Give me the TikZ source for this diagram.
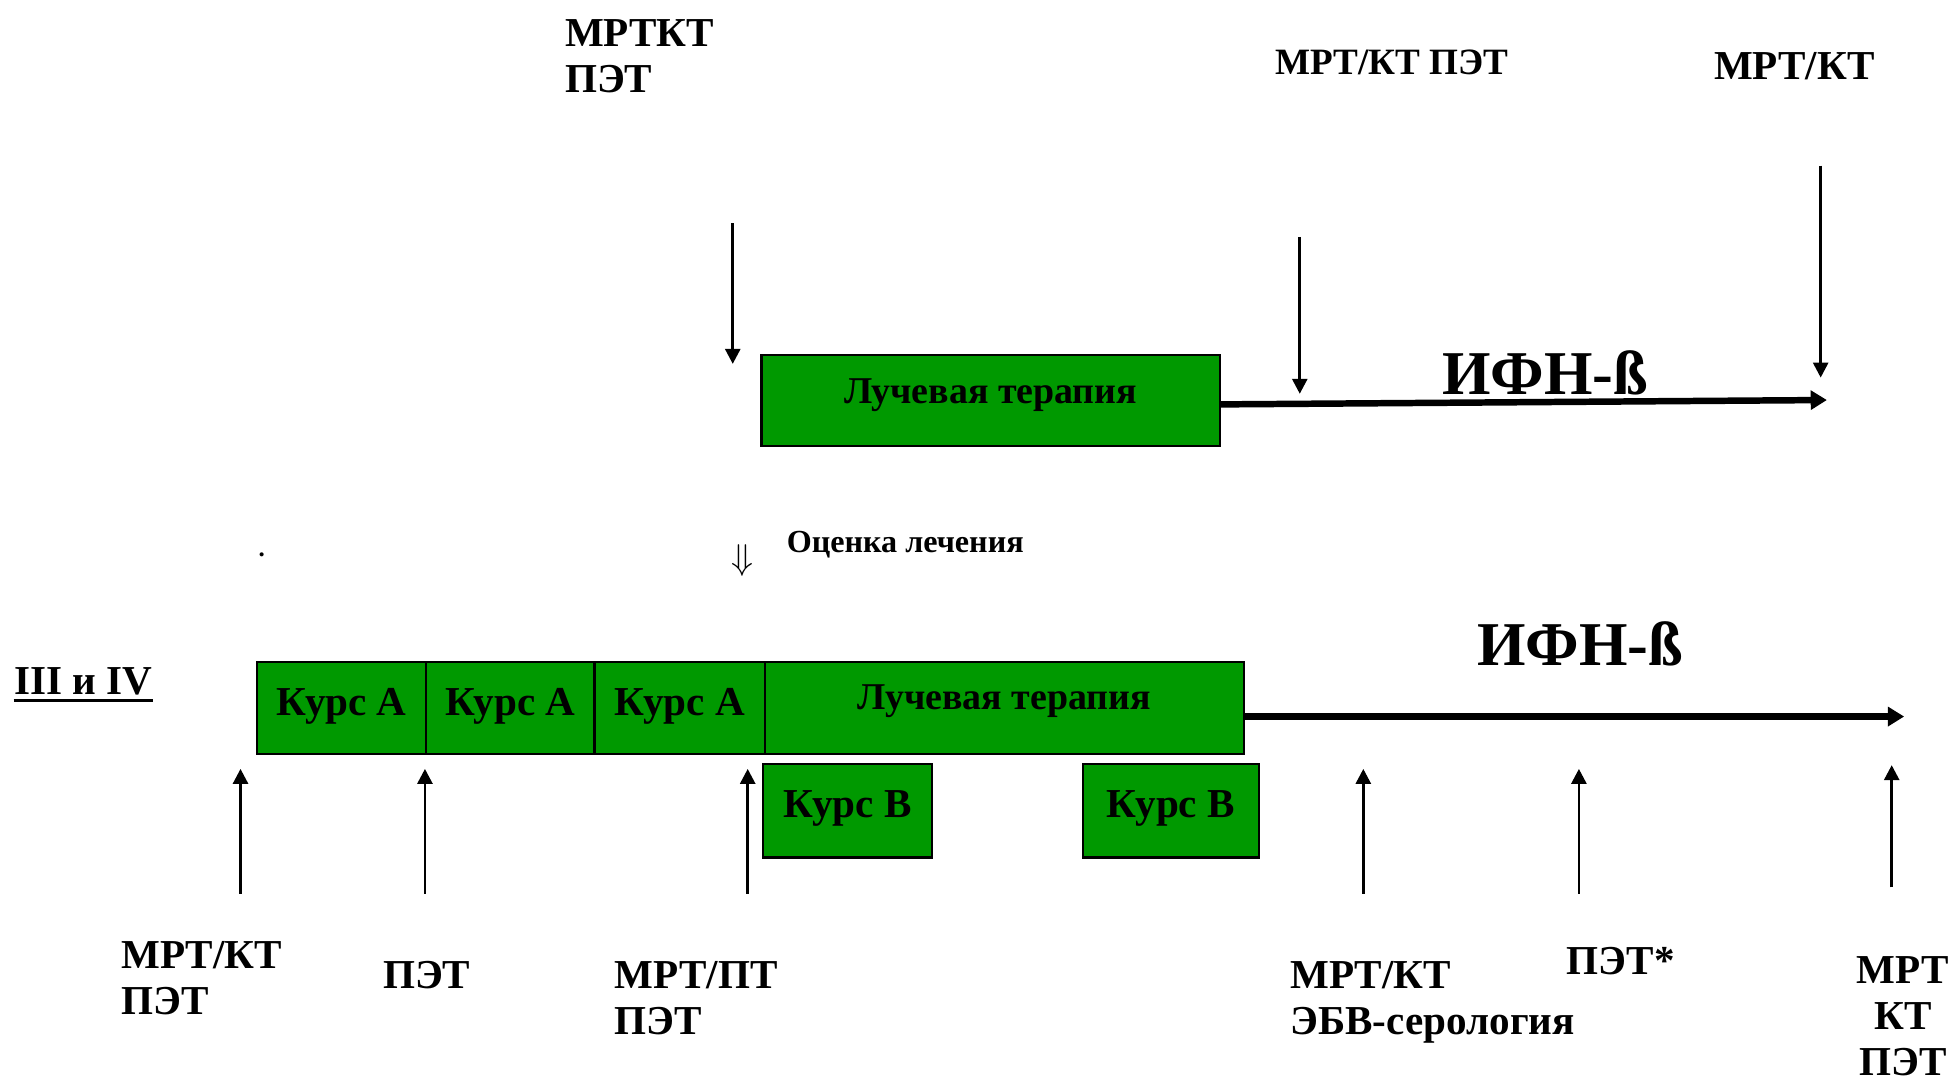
\documentclass[tikz,border=0pt]{standalone}
\usepackage{fontspec}
\setmainfont{Liberation Serif}
\usetikzlibrary{arrows.meta}
\definecolor{boxgreen}{RGB}{0,153,0}
\begin{document}
\begin{tikzpicture}[x=0.5pt,y=-0.5pt,
  box/.style={draw=black,line width=0.9pt,fill=boxgreen,inner sep=0pt},
  lab/.style={font=\bfseries\fontsize{16.5}{18.5}\selectfont,inner sep=0pt,align=left},
  boxtext/.style={font=\bfseries\fontsize{16.5}{18.5}\selectfont,inner sep=0pt},
  rttext/.style={font=\bfseries\fontsize{15.2}{16}\selectfont,inner sep=0pt},
  ifn/.style={font=\bfseries\fontsize{25}{28}\selectfont,inner sep=0pt},
  thin/.style={line width=1.1pt,-{Triangle[length=6pt,width=6pt]}},
  thick/.style={line width=2.6pt,-{Triangle[length=6.5pt,width=7.5pt]}}]
\useasboundingbox (0,0) rectangle (1568,867);

% upper row: radiotherapy followed by interferon
\node[box,minimum width=184pt,minimum height=36.5pt] (rt1) at (795,321.5) {};
\node[rttext] (rt1t) at (795,317) {Лучевая терапия};
\coordinate (ifn1end) at (1466,321);
\draw[thick] ([yshift=-1.5pt]rt1.east) -- (ifn1end);
\node[ifn] (ifn1) at (1240,299) {ИФН-ß};

% upper examinations
\node[lab,anchor=base west] (u1) at (453,74) {МРТКТ\\ПЭТ};
\node[lab,anchor=base west,font=\bfseries\fontsize{14.9}{16}\selectfont] (u2) at (1023,60) {МРТ/КТ ПЭТ};
\node[lab,anchor=base west] (u3) at (1375,64) {МРТ/КТ};
\coordinate (d1a) at (588,179); \coordinate (d1b) at (588,292);
\coordinate (d2a) at (1043,190); \coordinate (d2b) at (1043,316);
\coordinate (d3a) at (1461,133); \coordinate (d3b) at (1461,303);
\draw[thin] (d1a) -- (d1b);
\draw[thin] (d2a) -- (d2b);
\draw[thin] (d3a) -- (d3b);

% evaluation mark
\node[inner sep=0pt,font=\bfseries] (dot) at (210,445) {.};
\node[inner sep=0pt,font=\fontsize{15}{15}\selectfont] (eva) at (596,450) {$\Downarrow$};
\node[inner sep=0pt,anchor=base west,font=\bfseries\fontsize{12.9}{14}\selectfont] (evt) at (631,443) {Оценка лечения};

% stage label with a heavy underline
\node[lab,anchor=base west] (stage) at (11,557) {III и IV};
\draw[line width=1.5pt] ([yshift=-2.6pt]stage.base west) -- ([yshift=-2.6pt]stage.base east);

% lower row: courses A and radiotherapy
\node[box,minimum width=68pt,minimum height=37pt] (a1) at (274,568) {};
\node[box,minimum width=67.5pt,minimum height=37pt] (a2) at (409.5,568) {};
\node[box,minimum width=68.5pt,minimum height=37pt] (a3) at (545.5,568) {};
\node[box,minimum width=192pt,minimum height=37pt] (rt2) at (806,568) {};
\node[boxtext] (a1t) at (274,567) {Курс A};
\node[boxtext] (a2t) at (409.5,567) {Курс A};
\node[boxtext] (a3t) at (545.5,567) {Курс A};
\node[rttext] (rt2t) at (806,563) {Лучевая терапия};

% courses B
\node[box,minimum width=68pt,minimum height=37.5pt] (b1) at (680,650.5) {};
\node[box,minimum width=70.5pt,minimum height=37.5pt] (b2) at (939.5,650.5) {};
\node[boxtext] (b1t) at (680,649) {Курс B};
\node[boxtext] (b2t) at (939.5,649) {Курс B};

% interferon after radiotherapy
\coordinate (ifn2end) at (1528,575);
\draw[thick] (rt2.east |- ifn2end) -- (ifn2end);
\node[ifn] (ifn2) at (1268,517) {ИФН-ß};

% lower examinations
\foreach \n/\x in {p1/193,p2/341,p3/600,p4/1094,p5/1267}{
  \coordinate (\n a) at (\x,717); \coordinate (\n b) at (\x,617);
  \draw[thin] (\n a) -- (\n b);
}
\coordinate (p6a) at (1518,712); \coordinate (p6b) at (1518,614);
\draw[thin] (p6a) -- (p6b);

\node[lab,anchor=base west] (l1) at (97,814) {МРТ/КТ\\ПЭТ};
\node[lab,anchor=base west] (l2) at (307,793) {ПЭТ};
\node[lab,anchor=base west] (l3) at (493,830) {МРТ/ПТ\\ПЭТ};
\node[lab,anchor=base west] (l4) at (1035,830) {МРТ/КТ\\ЭБВ-серология};
\node[lab,anchor=base west] (l5) at (1257,782) {ПЭТ*};
\node[lab,align=center,anchor=base] (l6) at (1527,863) {МРТ\\КТ\\ПЭТ};
\end{tikzpicture}
\end{document}
